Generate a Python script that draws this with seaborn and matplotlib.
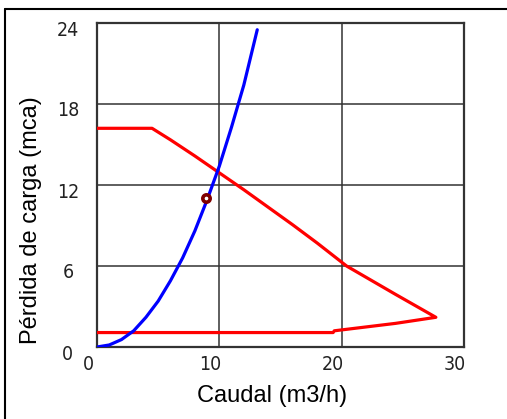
import numpy as np
import pandas as pd
import matplotlib
matplotlib.use('Agg')
import matplotlib.pyplot as plt
import matplotlib.transforms as mtrans
from matplotlib.lines import Line2D
import seaborn as sns

# pump curve (red), goes out and comes back
caudal_bomba = [0, 4.5, 6, 8, 10, 12, 14, 16, 18, 20.4, 24.4, 27.7, 24.4, 19.4, 19.3, 0]
perdida_bomba = [16.2, 16.2, 15.35, 14.15, 12.9, 11.65, 10.35, 9.05, 7.7, 6.0, 3.9, 2.2, 1.75, 1.2, 1.07, 1.07]

# system curve (blue)
caudal_sist = [0, 1, 2, 3, 4, 5, 6, 7, 8, 9, 10, 11, 12, 13.1]
perdida_sist = [0, 0.15, 0.55, 1.2, 2.2, 3.4, 4.9, 6.6, 8.6, 10.9, 13.4, 16.3, 19.4, 23.5]

# operating point
punto_x = [8.95]
punto_y = [11.0]

x_ticks = [0, 10, 20, 30]
y_ticks = [0, 6, 12, 18, 24]

sns.set_style('white')
plt.rcParams['font.family'] = ['Liberation Sans', 'DejaVu Sans']

df_b = pd.DataFrame({'q': caudal_bomba, 'h': perdida_bomba})
df_s = pd.DataFrame({'q': caudal_sist, 'h': perdida_sist})

fig = plt.figure(figsize=(5.07, 4.19), dpi=100)
ax = fig.add_axes([97/507, 1 - 347/419, 367/507, 324/419])

sns.lineplot(data=df_b, x='q', y='h', sort=False, estimator=None, color='#ff0000',
             linewidth=2.3, ax=ax, zorder=3)
sns.lineplot(data=df_s, x='q', y='h', sort=False, estimator=None, color='#0000ff',
             linewidth=2.3, ax=ax, zorder=4)
sns.scatterplot(x=punto_x, y=punto_y, marker='o', s=28, facecolor='white',
                edgecolor='#800000', linewidth=2.6, ax=ax, zorder=5)

ax.set_xlim(0, 30)
ax.set_ylim(0, 24)
ax.set_xticks(x_ticks)
ax.set_yticks(y_ticks)
ax.grid(True, color='#333333', linewidth=1.1)
ax.set_axisbelow(True)
for s in ax.spines.values():
    s.set_color('#333333')
    s.set_linewidth(1.6)

ax.tick_params(axis='both', length=0, labelsize=14, labelcolor='#222222')
ax.tick_params(axis='x', pad=6)
ax.tick_params(axis='y', pad=21)
for lab in ax.get_xticklabels():
    lab.set_family('DejaVu Sans')
    lab.set_fontstretch('condensed')
    lab.set_transform(lab.get_transform() + mtrans.ScaledTranslation(-9/100, 0, fig.dpi_scale_trans))
for lab in ax.get_yticklabels():
    lab.set_family('DejaVu Sans')
    lab.set_fontstretch('condensed')
    lab.set_horizontalalignment('center')
    lab.set_transform(lab.get_transform() + mtrans.ScaledTranslation(0, -5/100, fig.dpi_scale_trans))

ax.set_xlabel('Caudal (m3/h)', fontsize=17, color='black')
ax.set_ylabel('Pérdida de carga (mca)', fontsize=17, color='black')
ax.xaxis.set_label_coords(0.477, -0.118)
ax.yaxis.set_label_coords(-0.15, 0.392)

# outer frame, only left and top visible
fig.add_artist(Line2D([5/507, 5/507], [0, 1 - 9/419], transform=fig.transFigure, color='black', linewidth=1.5))
fig.add_artist(Line2D([5/507, 1], [1 - 9/419, 1 - 9/419], transform=fig.transFigure, color='black', linewidth=1.5))

fig.savefig('out.png', dpi=100)
